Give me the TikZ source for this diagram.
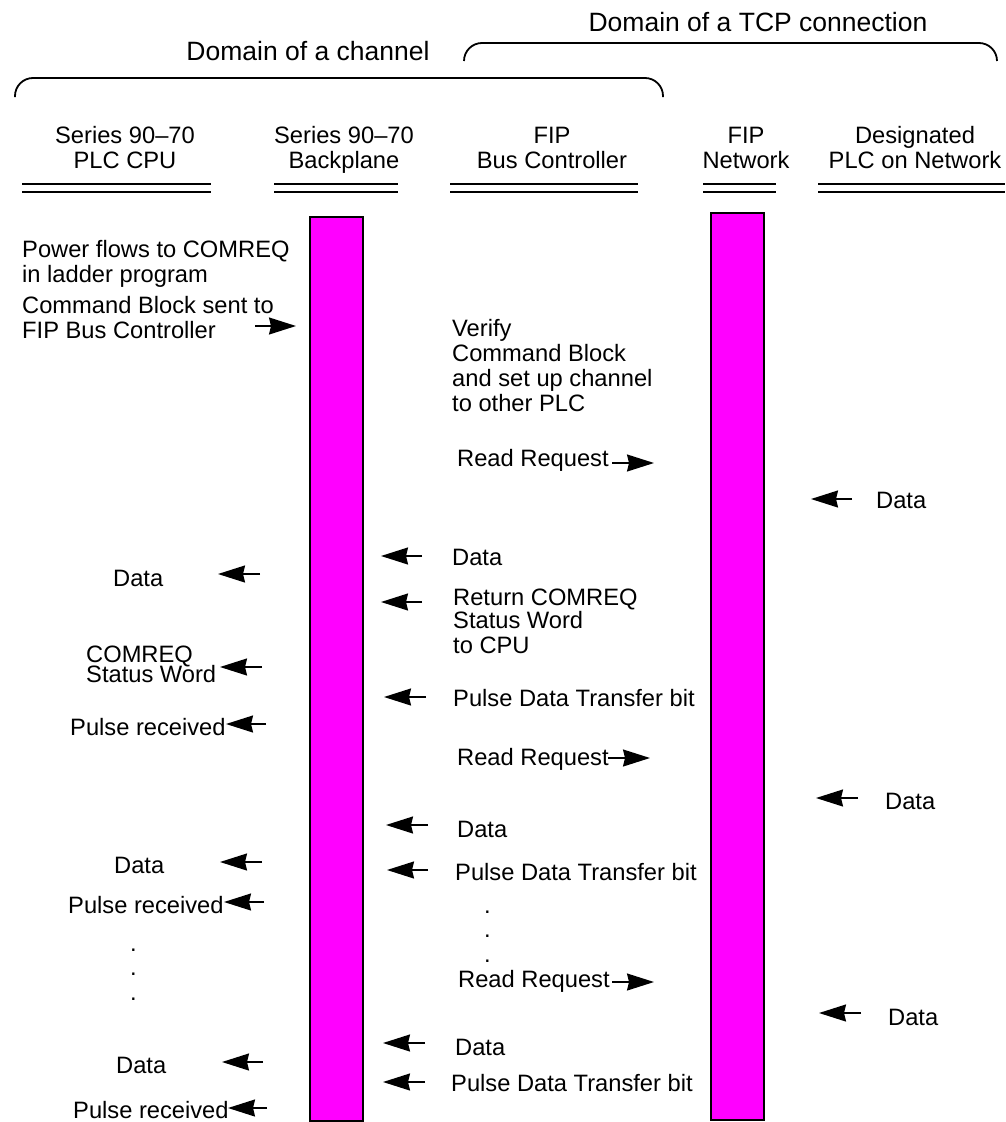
\documentclass[tikz,border=0pt]{standalone}
\usepackage{fontspec}
\setmainfont{Liberation Sans}
\usetikzlibrary{arrows.meta}

\definecolor{barmag}{RGB}{255,0,255}

\tikzset{
  lbl/.style={inner sep=0pt, anchor=base west, align=left},
  hdr/.style={inner sep=0pt, anchor=base, align=center},
  dom/.style={inner sep=0pt, anchor=base, font=\fontsize{26.5pt}{28pt}\selectfont},
  sig/.style={line width=1.6pt, -{Stealth[length=27pt,width=17pt,inset=2pt]}},
  dbl/.style={line width=1.5pt},
  busbar/.style={fill=barmag, draw=black, line width=1.5pt},
  brace/.style={line width=1.8pt, rounded corners=18pt},
}

\begin{document}
\begin{tikzpicture}[x=1pt, y=-1pt, font=\fontsize{23.7pt}{25pt}\selectfont]
  \useasboundingbox (0,0) rectangle (1005,1122);

  % ─────────── domains ───────────────────────────────────────────────
  \node[dom] (domtcp) at (758,31) {Domain of a TCP connection};
  \draw[brace] (464,61) |- (997,43) -- (997,61);
  \node[dom] (domchan) at (308,60) {Domain of a channel};
  \draw[brace] (15,97) |- (663,78) -- (663,97);

  % ─────────── column heads ──────────────────────────────────────────
  \node[hdr] (hcpu) at (125,168) {Series 90--70\\PLC CPU};
  \node[hdr] (hbp)  at (344,168) {Series 90--70\\Backplane};
  \node[hdr] (hbc)  at (552,168) {FIP\\Bus Controller};
  \node[hdr] (hnet) at (746,168) {FIP\\Network};
  \node[hdr] (hplc) at (915,168) {Designated\\PLC on Network};
  \draw[dbl] (22,184) -- (211,184)  (22,192) -- (211,192);
  \draw[dbl] (274,184) -- (398,184) (274,192) -- (398,192);
  \draw[dbl] (450,184) -- (638,184) (450,192) -- (638,192);
  \draw[dbl] (703,184) -- (776,184) (703,192) -- (776,192);
  \draw[dbl] (818,184) -- (1005,184) (818,192) -- (1005,192);

  % ─────────── bars ──────────────────────────────────────────────────
  \draw[busbar] (310,217) rectangle (363,1121);
  \draw[busbar] (711,213) rectangle (764,1120);

  % ─────────── PLC CPU side ──────────────────────────────────────────
  \node[lbl] (pwr) at (22,282) {Power flows to COMREQ\\in ladder program};
  \node[lbl] (cmd) at (22,338) {Command Block sent to\\FIP Bus Controller};
  \coordinate (cmdout) at (255,326);
  \draw[sig] (cmdout) -- ++(41,0);

  \node[lbl] (ldata1) at (113,586) {Data};
  \coordinate (la1) at (218,574);
  \draw[sig] (la1) ++(42,0) -- (la1);
  \node[lbl] (lstat) at (86,682) {COMREQ\\[-5pt]Status Word};
  \coordinate (la2) at (220,667);
  \draw[sig] (la2) ++(42,0) -- (la2);
  \node[lbl] (lpulse1) at (70,735) {Pulse received};
  \coordinate (la3) at (226,724);
  \draw[sig] (la3) ++(40,0) -- (la3);

  \node[lbl] (ldata2) at (114,873) {Data};
  \coordinate (la4) at (220,862);
  \draw[sig] (la4) ++(42,0) -- (la4);
  \node[lbl] (lpulse2) at (68,913) {Pulse received};
  \coordinate (la5) at (224,902);
  \draw[sig] (la5) ++(40,0) -- (la5);

  \node[lbl] (ldot1) at (130,951.5) {.};
  \node[lbl] (ldot2) at (130,975.5) {.};
  \node[lbl] (ldot3) at (130,1000.5) {.};

  \node[lbl] (ldata3) at (116,1073) {Data};
  \coordinate (la6) at (222,1062);
  \draw[sig] (la6) ++(41,0) -- (la6);
  \node[lbl] (lpulse3) at (73,1118) {Pulse received};
  \coordinate (la7) at (228,1108);
  \draw[sig] (la7) ++(39,0) -- (la7);

  % ─────────── Bus Controller side ───────────────────────────────────
  \node[lbl] (verify) at (452,411) {Verify\\Command Block\\and set up channel\\to other PLC};

  \node[lbl] (rr1) at (457,466) {Read Request};
  \coordinate (rq1) at (612,463);
  \draw[sig] (rq1) -- ++(42,0);

  \node[lbl] (mdata1) at (452,565) {Data};
  \coordinate (ma1) at (381,556);
  \draw[sig] (ma1) ++(41,0) -- (ma1);
  \node[lbl] (ret) at (453,653) {Return COMREQ\\[-2pt]Status Word\\to CPU};
  \coordinate (ma2) at (381,602);
  \draw[sig] (ma2) ++(41,0) -- (ma2);
  \node[lbl] (mpulse1) at (453,706) {Pulse Data Transfer bit};
  \coordinate (ma3) at (384,697);
  \draw[sig] (ma3) ++(42,0) -- (ma3);

  \node[lbl] (rr2) at (457,765) {Read Request};
  \coordinate (rq2) at (608,758);
  \draw[sig] (rq2) -- ++(42,0);

  \node[lbl] (mdata2) at (457,837) {Data};
  \coordinate (ma4) at (386,825);
  \draw[sig] (ma4) ++(42,0) -- (ma4);
  \node[lbl] (mpulse2) at (455,880) {Pulse Data Transfer bit};
  \coordinate (ma5) at (387,870);
  \draw[sig] (ma5) ++(41,0) -- (ma5);

  \node[lbl] (mdot1) at (484,913.5) {.};
  \node[lbl] (mdot2) at (484,937.5) {.};
  \node[lbl] (mdot3) at (484,962.5) {.};

  \node[lbl] (rr3) at (458,987) {Read Request};
  \coordinate (rq3) at (612,982);
  \draw[sig] (rq3) -- ++(42,0);

  \node[lbl] (mdata3) at (455,1055) {Data};
  \coordinate (ma6) at (383,1043);
  \draw[sig] (ma6) ++(42,0) -- (ma6);
  \node[lbl] (mpulse3) at (451,1091) {Pulse Data Transfer bit};
  \coordinate (ma7) at (383,1082);
  \draw[sig] (ma7) ++(42,0) -- (ma7);

  % ─────────── Designated PLC side ───────────────────────────────────
  \node[lbl] (rdata1) at (876,508) {Data};
  \coordinate (ra1) at (811,499);
  \draw[sig] (ra1) ++(41,0) -- (ra1);
  \node[lbl] (rdata2) at (885,809) {Data};
  \coordinate (ra2) at (816,798);
  \draw[sig] (ra2) ++(42,0) -- (ra2);
  \node[lbl] (rdata3) at (888,1025) {Data};
  \coordinate (ra3) at (819,1013);
  \draw[sig] (ra3) ++(42,0) -- (ra3);
\end{tikzpicture}
\end{document}
